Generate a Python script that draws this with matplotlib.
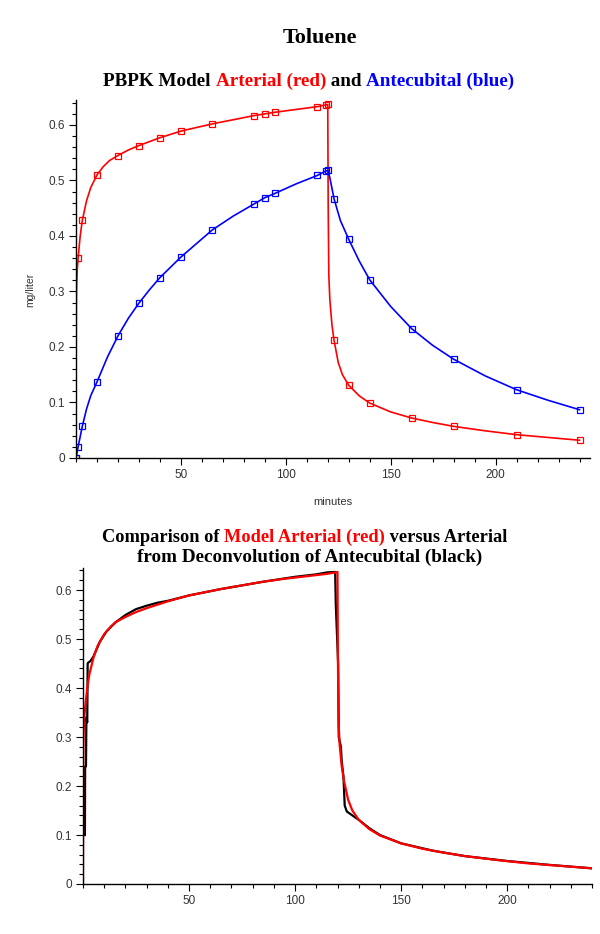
import matplotlib
matplotlib.use("Agg")
import matplotlib.pyplot as plt
from matplotlib.ticker import MultipleLocator, FuncFormatter

# ---------------- data ----------------
# minutes at which the model marks its points (top panel)
t_mark = [0, 1, 3, 10, 20, 30, 40, 50, 65, 85, 90, 95, 115, 119, 120,
          123, 130, 140, 160, 180, 210, 240]
red_mark = [0.0, 0.36, 0.428, 0.51, 0.545, 0.563, 0.577, 0.589, 0.602, 0.617,
            0.620, 0.623, 0.633, 0.636, 0.637, 0.212, 0.131, 0.099, 0.072,
            0.057, 0.042, 0.032]
blue_mark = [0.0, 0.02, 0.057, 0.137, 0.22, 0.279, 0.325, 0.362, 0.411, 0.458,
             0.469, 0.477, 0.509, 0.517, 0.518, 0.467, 0.394, 0.321, 0.233,
             0.178, 0.123, 0.087]

# model arterial curve (red)
t_red = [0, 0.05, 0.15, 0.3, 0.6, 1, 2, 3, 5, 7, 10, 13, 16, 20, 25, 30, 40,
         50, 65, 85, 90, 95, 115, 119, 120, 120.2, 120.5, 121, 122, 123, 125,
         127, 130, 135, 140, 150, 160, 170, 180, 195, 210, 225, 240]
red_curve = [0, 0.15, 0.27, 0.31, 0.34, 0.36, 0.40, 0.428, 0.463, 0.487, 0.51,
             0.525, 0.536, 0.545, 0.555, 0.563, 0.577, 0.589, 0.602, 0.617,
             0.620, 0.623, 0.633, 0.636, 0.637, 0.46, 0.33, 0.285, 0.24, 0.212,
             0.172, 0.150, 0.131, 0.112, 0.099, 0.083, 0.072, 0.064, 0.057,
             0.049, 0.042, 0.037, 0.032]

# model antecubital curve (blue)
t_blue = [0, 1, 3, 5, 7, 10, 15, 20, 25, 30, 35, 40, 50, 65, 75, 85, 90, 95,
          105, 115, 119, 120, 121, 123, 126, 130, 135, 140, 150, 160, 170,
          180, 195, 210, 225, 240]
blue_curve = [0, 0.02, 0.057, 0.088, 0.112, 0.137, 0.182, 0.22, 0.252, 0.279,
              0.303, 0.325, 0.362, 0.411, 0.436, 0.458, 0.469, 0.477, 0.494,
              0.509, 0.517, 0.518, 0.505, 0.467, 0.428, 0.394, 0.355, 0.321,
              0.273, 0.233, 0.203, 0.178, 0.148, 0.123, 0.104, 0.087]

# arterial from deconvolution of antecubital (black)
t_black = [0.9, 1.0, 1.4, 1.6, 2.0, 2.2, 2.5, 3.5, 5, 8, 11, 15, 20, 25, 30,
           35, 40, 50, 65, 85, 100, 110, 115, 118.9, 119.2, 120.3, 120.6,
           121.6, 122.0, 122.8, 123.4, 124.4, 127, 130, 135, 140, 150, 165,
           180, 200, 220, 240]
black_curve = [0.10, 0.24, 0.24, 0.34, 0.33, 0.45, 0.452, 0.455, 0.465, 0.495,
               0.515, 0.533, 0.549, 0.561, 0.568, 0.574, 0.578, 0.589, 0.602,
               0.617, 0.627, 0.632, 0.636, 0.637, 0.57, 0.45, 0.30, 0.28, 0.25,
               0.22, 0.16, 0.148, 0.140, 0.131, 0.114, 0.100, 0.083, 0.068,
               0.057, 0.047, 0.039, 0.032]

x_ticks = [50, 100, 150, 200]
y_ticks = [0, 0.1, 0.2, 0.3, 0.4, 0.5, 0.6]

RED = "#ff0000"
BLUE = "#0000ff"
SERIF = "Liberation Serif"
SANS = "Liberation Sans"

fig = plt.figure(figsize=(6, 9.34), dpi=100)
renderer = fig.canvas.get_renderer()


def title_line(xc, y, parts, size):
    # pieces of one centred line, each in its own colour, on a shared baseline
    texts = [fig.text(0, y, s, color=c, fontsize=size, fontweight="bold",
                      family=SERIF, va="baseline", ha="left") for s, c in parts]
    widths = [t.get_window_extent(renderer).width for t in texts]
    x = xc - sum(widths) / 2
    for t, w in zip(texts, widths):
        t.set_x(x / fig.bbox.width)
        x += w


def style_axes(ax, xmax):
    for side in ["top", "right"]:
        ax.spines[side].set_visible(False)
    for side in ["left", "bottom"]:
        ax.spines[side].set_linewidth(1.0)
        ax.spines[side].set_color("black")
    ax.set_xlim(0, xmax)
    ax.set_ylim(0, 0.645)
    ax.set_xticks(x_ticks)
    ax.set_yticks(y_ticks)
    ax.xaxis.set_minor_locator(MultipleLocator(10))
    ax.yaxis.set_minor_locator(MultipleLocator(0.02))
    ax.yaxis.set_major_formatter(FuncFormatter(lambda v, p: "0" if v == 0 else f"{v:.1f}"))
    ax.tick_params(which="major", length=5, width=0.8, labelsize=8.5,
                   labelcolor="#333333", pad=3)
    ax.tick_params(which="minor", length=3, width=0.8)
    for lab in ax.get_xticklabels() + ax.get_yticklabels():
        lab.set_family(SANS)


# ---------------- top panel ----------------
ax1 = fig.add_axes([76 / 600, 1 - 458 / 934, 514 / 600, 358 / 934])
ax1.plot(t_red, red_curve, color=RED, lw=1.2)
ax1.plot(t_mark, red_mark, ls="none", marker="s", ms=4, mfc="none", mec=RED, mew=0.9)
ax1.plot(t_blue, blue_curve, color=BLUE, lw=1.2)
ax1.plot(t_mark, blue_mark, ls="none", marker="s", ms=4, mfc="none", mec=BLUE, mew=0.9)
style_axes(ax1, 245)
ax1.set_ylabel("mg/liter", fontsize=7.5, family=SANS, color="#333333")
ax1.yaxis.set_label_coords(-0.08, 0.47)
ax1.set_xlabel("minutes", fontsize=8, family=SANS, color="#333333")
ax1.xaxis.set_label_coords(0.5, -0.109)

# ---------------- bottom panel ----------------
ax2 = fig.add_axes([83 / 600, 1 - 884 / 934, 509 / 600, 316 / 934])
ax2.plot(t_black, black_curve, color="black", lw=1.6)
ax2.plot(t_red, red_curve, color=RED, lw=1.6)
style_axes(ax2, 240)

# ---------------- titles ----------------
fig.text(320 / 600, 1 - 38 / 934, "Toluene", fontsize=16, fontweight="bold",
         family=SERIF, ha="center", va="center")
title_line(309, 1 - 86 / 934, [("PBPK Model ", "black"), ("Arterial (red)", RED),
                               (" and ", "black"), ("Antecubital (blue)", BLUE)], 13.8)
title_line(305, 1 - 542 / 934, [("Comparison of ", "black"), ("Model Arterial (red)", RED),
                                (" versus Arterial", "black")], 13.2)
title_line(310, 1 - 562 / 934, [("from Deconvolution of Antecubital (black)", "black")], 13.8)

fig.savefig("out.png", dpi=100)
